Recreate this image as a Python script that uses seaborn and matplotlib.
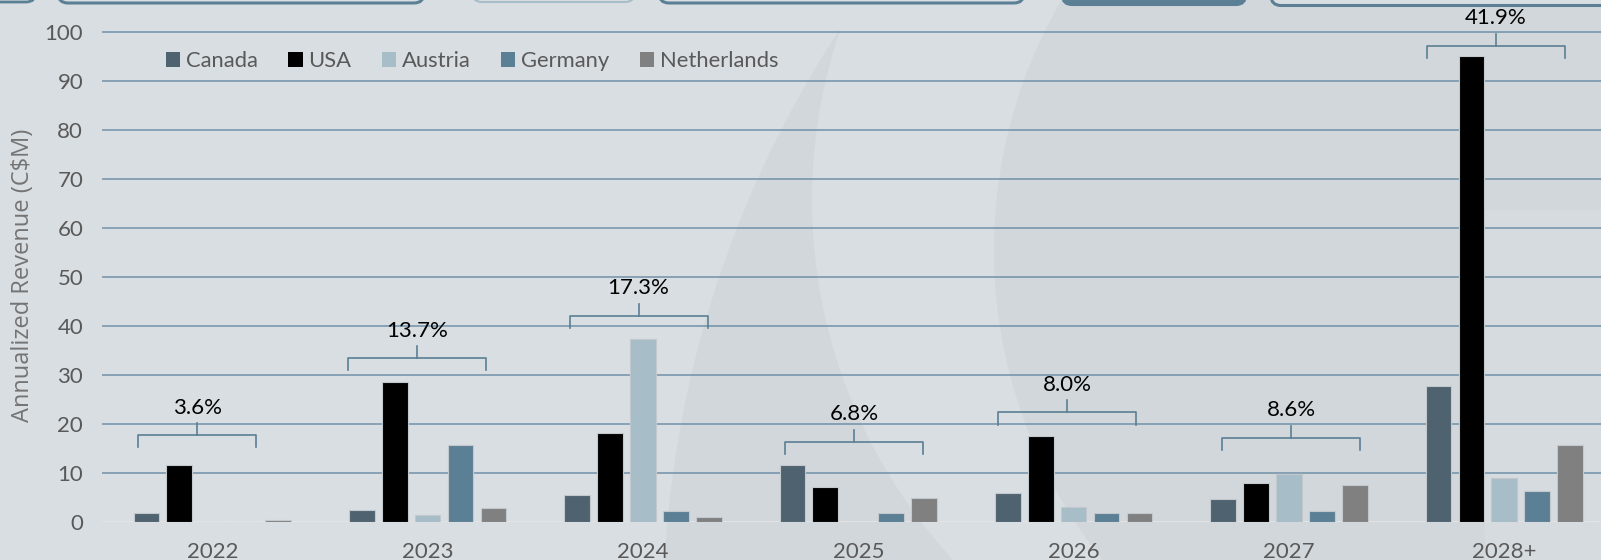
import numpy as np
import pandas as pd
import matplotlib
matplotlib.use("Agg")
import matplotlib.pyplot as plt
from matplotlib.patches import Ellipse, FancyBboxPatch, Rectangle, Patch
from matplotlib.transforms import IdentityTransform
import seaborn as sns

# ---- data ----
years = ["2022", "2023", "2024", "2025", "2026", "2027", "2028+"]
countries = ["Canada", "USA", "Austria", "Germany", "Netherlands"]
canada = [1.8, 2.4, 5.5, 11.5, 5.9, 4.7, 27.6]
usa = [11.5, 28.5, 18.0, 7.0, 17.5, 7.8, 95.0]
austria = [0.0, 1.3, 37.2, 0.0, 3.1, 9.8, 9.0]
germany = [0.0, 15.6, 2.2, 1.7, 1.7, 2.2, 6.2]
netherlands = [0.3, 2.7, 1.0, 4.9, 1.7, 7.5, 15.6]
share_labels = ["3.6%", "13.7%", "17.3%", "6.8%", "8.0%", "8.6%", "41.9%"]
bracket_levels = [17.7, 33.4, 42.0, 16.3, 22.3, 17.1, 97.1]

# bracket layout (category units)
bracket_shift = [-0.07, -0.05, -0.02, -0.02, -0.03, 0.01, -0.04]
bracket_span = [0.55, 0.64, 0.64, 0.64, 0.64, 0.64, 0.64]

palette = {"Canada": "#4F6270", "USA": "#000000", "Austria": "#A7BDC8",
           "Germany": "#5B7F94", "Netherlands": "#808080"}
BG = "#D9DEE2"
DARK = "#D2D7DB"
GRID = "#7191A9"
BRK = "#5B7F94"
TXT = "#595959"

plt.rcParams['font.family'] = ['Lato', 'DejaVu Sans']

W, H = 1601, 560
fig = plt.figure(figsize=(W / 100, H / 100), dpi=100)
fig.patch.set_facecolor(BG)


def circle_px(cx, cy, r, color):
    """circle given in pixel coords (y from top)"""
    fig.add_artist(Ellipse((cx / W, 1 - cy / H), 2 * r / W, 2 * r / H,
                           transform=fig.transFigure, facecolor=color,
                           edgecolor="none", zorder=-10))


# background swooshes
circle_px(1738, 620, 1075, DARK)
circle_px(1342, 200, 530, BG)
circle_px(1491, 250, 497, DARK)
fig.add_artist(Rectangle((1485 / W, 0), 1, 1 - 210 / H, transform=fig.transFigure,
                         facecolor="#D6DBE0", edgecolor="none", zorder=-9))

# clipped boxes of the slide above the chart
top_boxes = [(-60, 36, 2, BG, BRK, 2.0), (58, 424, 3, BG, BRK, 2.2),
             (472, 635, 2, BG, "#A7BDC8", 1.5), (659, 1024, 3, BG, BRK, 2.2),
             (1062, 1246, 5, BRK, BRK, 1.5), (1271, 1660, 5.5, BG, BRK, 2.2)]
for x0, x1, bottom, face, edge, lw in top_boxes:
    fig.add_artist(FancyBboxPatch((x0, H - bottom), x1 - x0, 80,
                                  boxstyle="round,pad=0,rounding_size=10",
                                  transform=IdentityTransform(), facecolor=face,
                                  edgecolor=edge, linewidth=lw, zorder=5))

# ---- chart ----
zero_px = 521.7
unit_px = 4.901
ax = fig.add_axes([102 / W, 1 - zero_px / H, 1 - 102 / W, zero_px / H])
ax.set_facecolor("none")

wide = pd.DataFrame({"Canada": canada, "USA": usa, "Austria": austria,
                     "Germany": germany, "Netherlands": netherlands}, index=years)
long = wide.reset_index(names="year").melt(id_vars="year", var_name="country",
                                           value_name="revenue")

sns.barplot(data=long, x="year", y="revenue", hue="country", order=years,
            hue_order=countries, palette=palette, saturation=1, width=0.765, gap=0.22,
            edgecolor="#C3C8CC", linewidth=0.8, errorbar=None, legend=False, ax=ax)

ax.set_xlim(-0.512, 6.449)
ax.set_ylim(0, zero_px / unit_px)
ax.set_yticks(range(0, 101, 10))
for y in range(10, 101, 10):
    ax.axhline(y, color=GRID, lw=1.1, zorder=0.5)
ax.axhline(0, color="#E2E3E4", lw=2.2, zorder=0.6)
for s in ax.spines.values():
    s.set_visible(False)
ax.tick_params(axis="both", length=0, labelsize=16, labelcolor=TXT)
ax.tick_params(axis="x", pad=14.5)
ax.tick_params(axis="y", pad=13.5)
ax.set_xlabel("")
ax.set_ylabel("")

# share brackets
for i, (lvl, lab) in enumerate(zip(bracket_levels, share_labels)):
    c = i + bracket_shift[i]
    half = bracket_span[i] / 2
    ax.plot([c - half, c - half, c + half, c + half], [lvl - 2.5, lvl, lvl, lvl - 2.5],
            color=BRK, lw=1.2, zorder=4, clip_on=False)
    ax.plot([c, c], [lvl, lvl + 2.5], color=BRK, lw=1.2, zorder=4, clip_on=False)
    ax.text(c, lvl + 5.6, lab, ha="center", va="center", fontsize=16, color="black")

handles = [Patch(facecolor=palette[c], edgecolor="none", label=c) for c in countries]
ax.legend(handles=handles, loc="center left", bbox_to_anchor=(166 / W, 1 - 61 / H),
          bbox_transform=fig.transFigure, ncol=5, frameon=False, fontsize=15.8,
          handlelength=0.65, handleheight=0.65, handletextpad=0.25,
          columnspacing=1.4, borderpad=0, borderaxespad=0, labelcolor=TXT)

fig.text(23 / W, 1 - 275 / H, "Annualized Revenue (C$M)", rotation=90,
         ha="center", va="center", fontsize=17, color="#747474",
         family=["Open Sans", "DejaVu Sans"])

fig.savefig("out.png", dpi=100, facecolor=fig.get_facecolor())
